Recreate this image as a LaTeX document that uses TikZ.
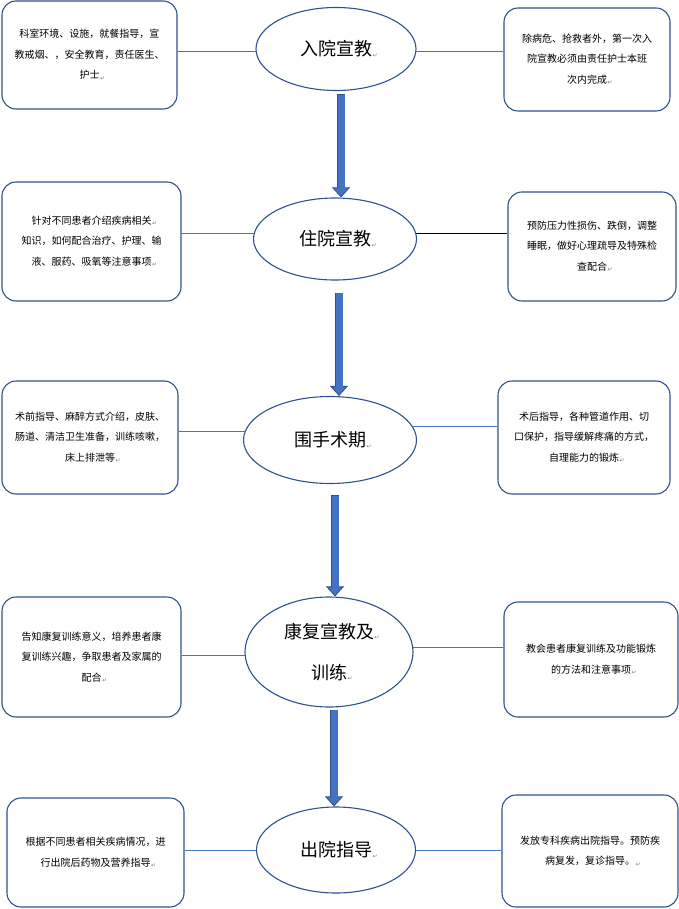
\documentclass[tikz,border=0pt]{standalone}
\usepackage{fontspec}
\setmainfont{Noto Sans CJK SC}
\newfontfamily\markfont{DejaVu Sans}
\usetikzlibrary{arrows.meta,shapes.geometric}

\newcommand{\pmark}{\rlap{\kern0.5pt\raisebox{-1.5pt}{\markfont\fontsize{6}{6}\selectfont\color{markColour}↵}}}

\begin{document}
\begin{tikzpicture}
			\definecolor{boxColour}{RGB}{47, 82, 143}
			\definecolor{lineColour}{RGB}{68, 114, 196}
			\definecolor{arrowFill}{RGB}{68, 114, 196}
			\definecolor{arrowEdge}{RGB}{47, 82, 143}
			\definecolor{markColour}{RGB}{128, 128, 128}
			\tikzstyle{phase}=[ellipse, draw=boxColour, fill=white, line width=1.1pt, inner sep=0pt, align=center, font=\fontsize{18}{41}\selectfont]
			\tikzstyle{note}=[rectangle, rounded corners=14pt, draw=boxColour, fill=white, line width=1.1pt, inner sep=0pt, align=center, font=\fontsize{10}{20.5}\selectfont]
			\tikzstyle{flow}=[draw=arrowEdge, line width=8.5pt, -{Triangle[length=10pt, width=18pt, line width=0.8pt, fill=arrowFill]}, postaction={draw=arrowFill, line width=7pt, shorten <=0.75pt, shorten >=8pt, -}]

			\useasboundingbox (0pt, 0pt) rectangle (679pt, -909pt);

			\node [phase, xshift=336pt, yshift=-49pt, minimum width=160pt, minimum height=83pt] (a) {入院宣教\pmark};
			\node [phase, xshift=335pt, yshift=-239pt, minimum width=163pt, minimum height=82pt] (b) {住院宣教\pmark};
			\node [phase, xshift=330pt, yshift=-440pt, minimum width=173pt, minimum height=87pt] (c) {围手术期\pmark};
			\node [phase, xshift=329pt, yshift=-652pt, minimum width=168pt, minimum height=110pt] (d) {康复宣教及\pmark\\训练\pmark};
			\node [phase, xshift=336pt, yshift=-850pt, minimum width=159pt, minimum height=86pt] (e) {出院指导\pmark};

			\node [note, xshift=89.5pt, yshift=-55pt, minimum width=175pt, minimum height=108pt] (la) {科室环境、设施，就餐指导，宣\\教戒烟、，安全教育，责任医生、\\护士\pmark};
			\node [note, xshift=587pt, yshift=-59.5pt, minimum width=166pt, minimum height=103pt] (ra) {除病危、抢救者外，第一次入\\院宣教必须由责任护士本班\\次内完成\pmark};
			\node [note, xshift=91.5pt, yshift=-241.5pt, minimum width=179pt, minimum height=119pt] (lb) {针对不同患者介绍疾病相关\pmark\\知识，如何配合治疗、护理、输\\液、服药、吸氧等注意事项\pmark};
			\node [note, xshift=592pt, yshift=-246.5pt, minimum width=168pt, minimum height=109pt] (rb) {预防压力性损伤、跌倒，调整\\睡眠，做好心理疏导及特殊检\\查配合\pmark};
			\node [note, xshift=90pt, yshift=-437.5pt, minimum width=176pt, minimum height=113pt] (lc) {术前指导、麻醉方式介绍，皮肤、\\肠道、清洁卫生准备，训练咳嗽，\\床上排泄等\pmark};
			\node [note, xshift=584pt, yshift=-437.5pt, minimum width=172pt, minimum height=113pt] (rc) {术后指导，各种管道作用、切\\口保护，指导缓解疼痛的方式，\\自理能力的锻炼\pmark};
			\node [note, xshift=91.5pt, yshift=-657pt, minimum width=179pt, minimum height=120pt] (ld) {告知康复训练意义，培养患者康\\复训练兴趣，争取患者及家属的\\配合\pmark};
			\node [note, xshift=591pt, yshift=-659.5pt, minimum width=174pt, minimum height=115pt] (rd) {教会患者康复训练及功能锻炼\\的方法和注意事项\pmark};
			\node [note, xshift=95.5pt, yshift=-852.5pt, minimum width=177pt, minimum height=109pt] (le) {根据不同患者相关疾病情况，进\\行出院后药物及营养指导\pmark};
			\node [note, xshift=590pt, yshift=-851pt, minimum width=176pt, minimum height=112pt] (re) {发放专科疾病出院指导。预防疾\\病复发，复诊指导。\pmark};

			\path[-, line width=0.8pt, color=lineColour]
			(a.182) edge (a.182 -| la.east)
			(a.358) edge (a.358 -| ra.west)
			(b.176) edge (b.176 -| lb.east)
			(c.174) edge (c.174 -| lc.east)
			(c.9) edge (c.9 -| rc.west)
			(d.182) edge (d.182 -| ld.east)
			(d.3) edge (d.3 -| rd.west)
			(e.west) edge (e.west -| le.east)
			(e.east) edge (e.east -| re.west);
			\path[-, line width=0.8pt, color=black]
			(b.4) edge (b.4 -| rb.west);

			\path
			([xshift=5pt, yshift=-3pt]a.south) edge[flow] ([xshift=5pt]a.south |- b.north)
			([xshift=4pt, yshift=-12pt]b.south) edge[flow] ([xshift=4pt]b.south |- c.north)
			([xshift=5pt, yshift=-11pt]c.south) edge[flow] ([xshift=5pt]c.south |- d.north)
			([xshift=5pt, yshift=-2pt]d.south) edge[flow] ([xshift=5pt]d.south |- e.north);
		\end{tikzpicture}
\end{document}
